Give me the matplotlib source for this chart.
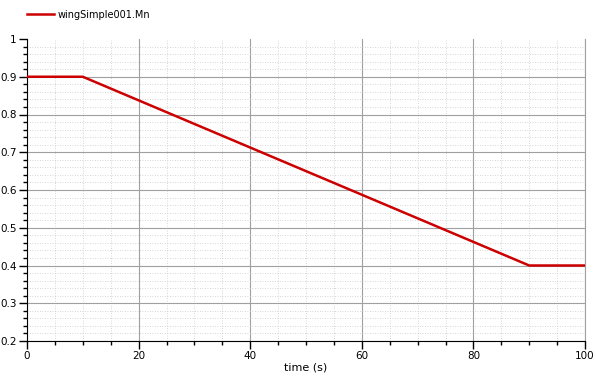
import matplotlib
matplotlib.use("Agg")
import matplotlib.pyplot as plt
from matplotlib.ticker import MultipleLocator
import numpy as np

time = [0, 10, 90, 100]
mn = [0.9, 0.9, 0.4, 0.4]
series_label = "wingSimple001.Mn"
x_ticks = [0, 20, 40, 60, 80, 100]
y_ticks = [0.2, 0.3, 0.4, 0.5, 0.6, 0.7, 0.8, 0.9, 1.0]

fig = plt.figure(figsize=(5.96, 3.78), dpi=100)
ax = fig.add_axes([27/596, 1-341/378, (585-27)/596, (341-39)/378])
ax.plot(time, mn, color="#cc0000", lw=1.8, label=series_label, zorder=3)
ax.set_xticks(x_ticks)
ax.set_xticklabels([f"{v:g}" for v in x_ticks])
ax.set_yticks(y_ticks)
ax.set_yticklabels([f"{v:g}" for v in y_ticks])
ax.xaxis.set_minor_locator(MultipleLocator(5))
ax.yaxis.set_minor_locator(MultipleLocator(0.02))
ax.set_xlim(0, 100)
ax.set_ylim(0.2, 1.0)
ax.grid(which="major", color="#a0a0a0", lw=0.8, ls="-")
ax.grid(which="minor", color="#c8c8c8", lw=0.6, ls=(0, (1, 2)))
ax.set_axisbelow(True)
ax.spines["top"].set_visible(False)
ax.spines["right"].set_color("#a0a0a0")
ax.tick_params(which="major", length=6, width=1, labelsize=7.5, pad=1.5)
ax.tick_params(which="minor", length=3, width=1)
# hide horizontal gridline at the top (y = 1)
for tick in ax.yaxis.get_major_ticks():
    if abs(tick.get_loc() - 1.0) < 1e-9:
        tick.gridline.set_visible(False)
ax.set_xlabel("time (s)", fontsize=8, labelpad=1)
fig.legend(loc="upper left", bbox_to_anchor=(20/596, 1-3/378), frameon=False,
           fontsize=7, handlelength=2.8, handletextpad=0.4, borderpad=0.2)
fig.savefig("out.png", dpi=100)
